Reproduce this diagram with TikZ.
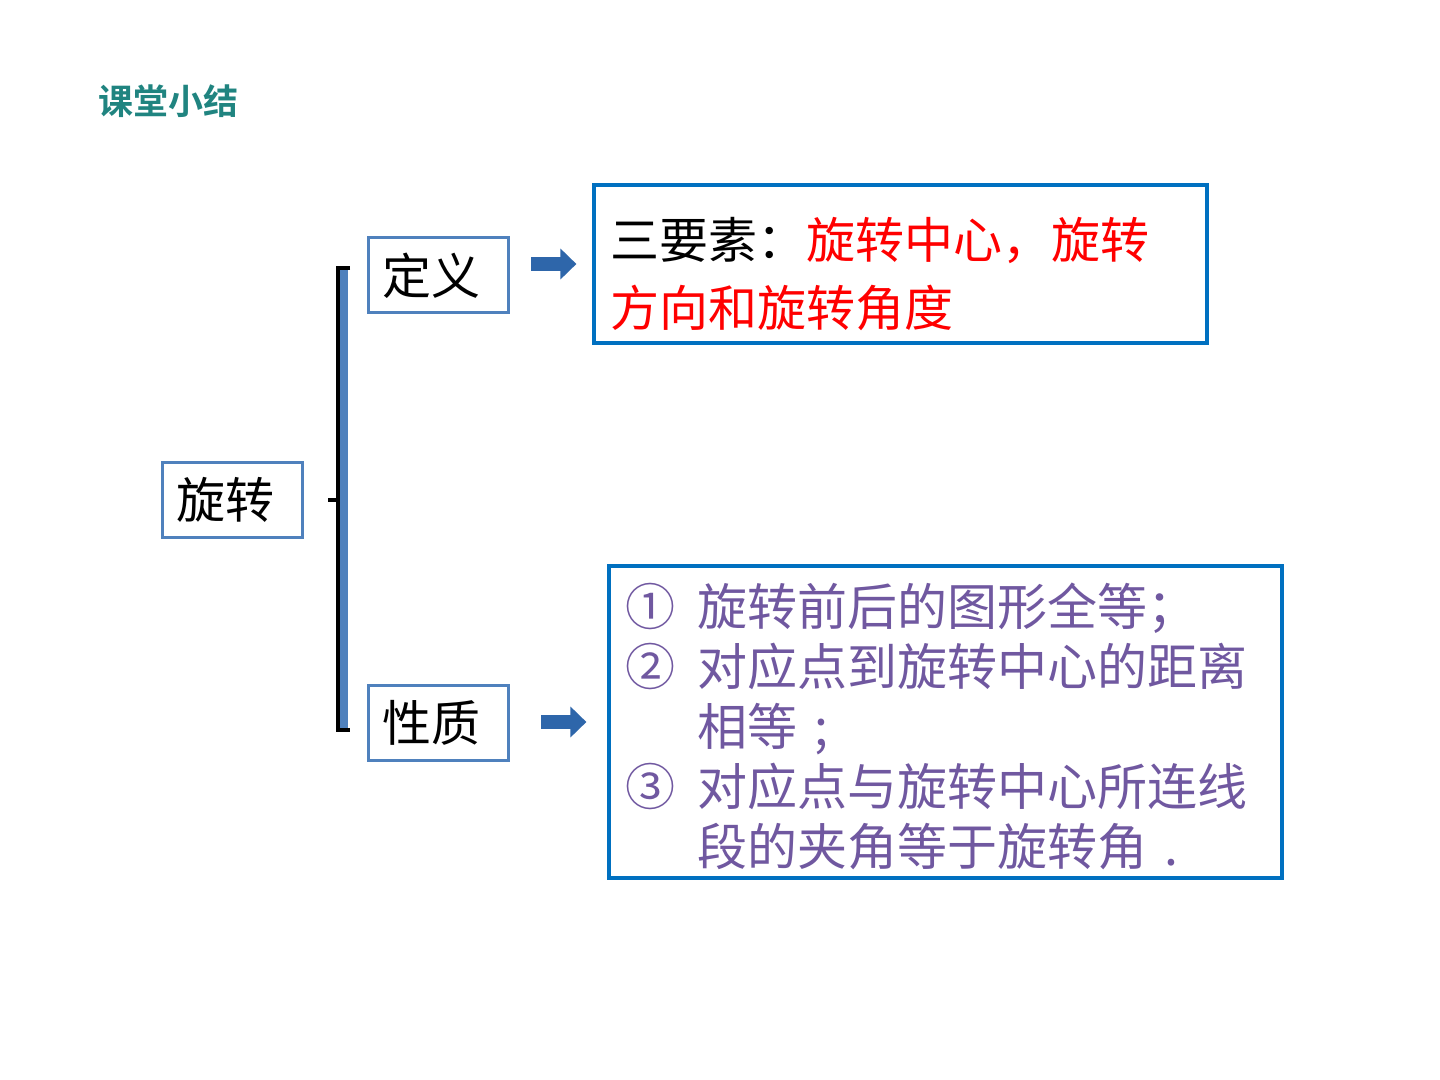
\documentclass[tikz,border=0pt]{standalone}
\usepackage{fontspec}
\setmainfont{Noto Sans CJK SC}
\newfontfamily\titlefont{Noto Sans CJK SC Bold}
\usetikzlibrary{arrows.meta,positioning}

\definecolor{boxblue}{RGB}{79,129,189}
\definecolor{frameblue}{RGB}{0,112,192}
\definecolor{arrowblue}{RGB}{46,102,170}
\definecolor{titleteal}{RGB}{32,132,128}
\definecolor{propviolet}{RGB}{112,88,160}

\begin{document}
\begin{tikzpicture}[
    x=0.5pt,
    y=-0.5pt,
    small/.style={rectangle,draw=boxblue,line width=1.5pt,font=\fontsize{24.5}{28}\selectfont,minimum width=70pt,minimum height=37.5pt,inner sep=0pt},
    frame/.style={rectangle,draw=frameblue,line width=1.6pt,align=left,inner xsep=8pt,inner ysep=3pt},
    bigarrow/.style={line width=7pt,arrowblue,-{Triangle[length=8pt,width=15pt]}},
    bracket/.style={line width=2pt,black}
]
\useasboundingbox (0,0) rectangle (1440,1080);

% Titel
\node[font=\titlefont\fontsize{17.5}{20}\selectfont,text=titleteal,anchor=west] (title) at (91,101) {课堂小结};

% Hauptbegriff
\node[small] (rot) at (232,500) {\hspace*{-7pt}旋转};

% Zweige
\node[small] (def) at (438.5,275.5) {定义\hspace*{7pt}};
\node[small] (prop) at (438.5,722.5) {性质\hspace*{7pt}};

% Definition
\node[frame,minimum width=306.5pt,minimum height=79pt,text width=290pt,font=\fontsize{24.5}{34}\selectfont] (defbox) at (900.5,264)
    {\rule{0pt}{31pt}三要素：\textcolor{red}{旋转中心，旋转}\\\textcolor{red}{方向和旋转角度}};

% Eigenschaften
\node[frame,minimum width=336.5pt,minimum height=156pt,text width=320pt,text=propviolet,font=\fontsize{25}{30}\selectfont] (propbox) at (945.5,722)
    {\rule{0pt}{26pt}\makebox[36pt][l]{①}旋转前后的图形全等；\\
    \makebox[36pt][l]{②}对应点到旋转中心的距离\\
    \hspace*{36pt}相等\ ;\\
    \makebox[36pt][l]{③}对应点与旋转中心所连线\\
    \hspace*{36pt}段的夹角等于旋转角\ .};

% Klammer
\coordinate (btop) at (338,268);
\coordinate (bbot) at (338,730);
\coordinate (bmid) at (338,500);
\fill[boxblue] (340,270) rectangle (348,728);
\draw[bracket] ([xshift=6pt]btop) -- (btop) -- (bbot) -- ([xshift=6pt]bbot);
\draw[bracket] (bmid) -- ([xshift=-5pt]bmid);

% Pfeile
\draw[bigarrow,shorten <=10.5pt,shorten >=8pt] (def.east |- defbox.west) -- (defbox.west);
\draw[bigarrow,shorten <=15.5pt,shorten >=10.5pt] (prop.east |- propbox.west) -- (propbox.west);

\end{tikzpicture}
\end{document}
